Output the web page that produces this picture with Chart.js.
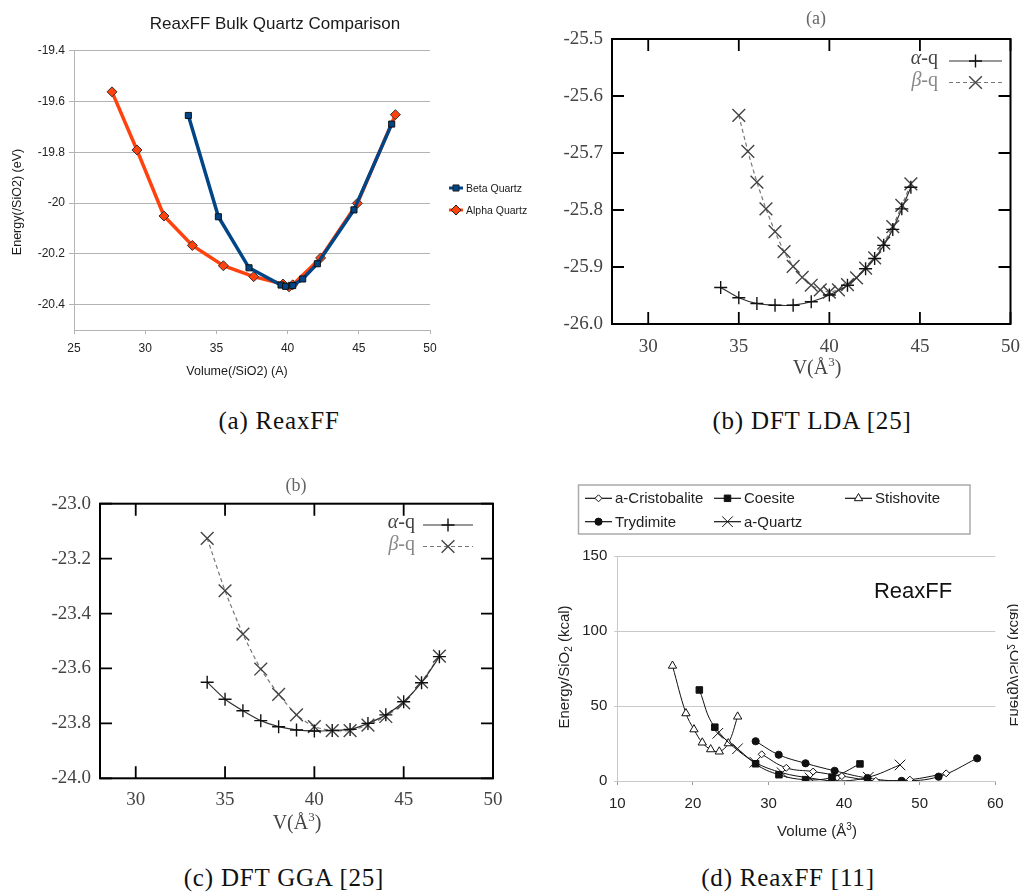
<!DOCTYPE html>
<html>
<head>
<meta charset="utf-8">
<script src="https://cdn.jsdelivr.net/npm/chart.js@4.4.0/dist/chart.umd.min.js"></script>
<style>
  body { margin: 0; background: #fff; width: 1032px; height: 892px; position: relative; overflow: hidden; }
  canvas { position: absolute; }
  .cap { position: absolute; font-family: "Liberation Serif", "Times New Roman", serif; font-size: 25px; color: #111;
         letter-spacing: 0.8px; transform: translate(-50%, -50%); white-space: nowrap; line-height: 1; }
</style>
</head>
<body>
<canvas id="ca" width="540" height="400" style="left:0;top:0"></canvas>
<canvas id="cb" width="492" height="400" style="left:540px;top:0"></canvas>
<canvas id="cc" width="540" height="392" style="left:0;top:460px"></canvas>
<canvas id="cd" width="492" height="380" style="left:540px;top:470px"></canvas>
<div class="cap" style="left:279px;top:420px">(a) ReaxFF</div>
<div class="cap" style="left:812px;top:420px">(b) DFT LDA [25]</div>
<div class="cap" style="left:284px;top:877px">(c) DFT GGA [25]</div>
<div class="cap" style="left:788px;top:877px">(d) ReaxFF [11]</div>
<script>
// (a) ReaxFF bulk quartz comparison, energy in eV per SiO2
const betaVol = [33.03, 35.14, 37.29, 39.54, 39.86, 40.36, 41.06, 42.09, 44.66, 47.31];
const betaE = [-19.655, -20.054, -20.255, -20.323, -20.328, -20.325, -20.299, -20.239, -20.027, -19.689];
const alphaVol = [27.67, 29.42, 31.32, 33.31, 35.49, 37.62, 39.68, 40.1, 40.36, 42.32, 44.9, 47.57];
const alphaE = [-19.562, -19.791, -20.051, -20.167, -20.247, -20.29, -20.319, -20.33, -20.322, -20.216, -20.001, -19.652];
const reaxXTicks = [25, 30, 35, 40, 45, 50];
const reaxYTicks = [-20.4, -20.2, -20, -19.8, -19.6, -19.4];

// (b) DFT LDA
const ldaAlphaVol = [34, 35, 36, 37, 38, 39, 40, 41, 42, 42.5, 43, 43.5, 44, 44.5];
const ldaAlphaE = [-25.936, -25.954, -25.964, -25.967, -25.967, -25.961, -25.949, -25.932, -25.903, -25.885, -25.862, -25.834, -25.798, -25.76];
const ldaBetaVol = [35, 35.5, 36, 36.5, 37, 37.5, 38, 38.5, 39, 39.5, 40, 40.5, 41, 41.5, 42, 42.5, 43, 43.5, 44, 44.5];
const ldaBetaE = [-25.634, -25.697, -25.751, -25.798, -25.838, -25.873, -25.899, -25.918, -25.932, -25.94, -25.944, -25.94, -25.931, -25.919, -25.902, -25.884, -25.858, -25.829, -25.792, -25.754];
const ldaYTicks = [-26.0, -25.9, -25.8, -25.7, -25.6, -25.5];

// (c) DFT GGA
const ggaVol = [34, 35, 36, 37, 38, 39, 40, 41, 42, 43, 44, 45, 46, 47];
const ggaAlphaE = [-23.65, -23.712, -23.754, -23.79, -23.812, -23.824, -23.828, -23.826, -23.822, -23.8, -23.769, -23.721, -23.652, -23.557];
const ggaBetaE = [-23.126, -23.317, -23.475, -23.602, -23.694, -23.769, -23.812, -23.826, -23.826, -23.806, -23.775, -23.725, -23.649, -23.555];
const ggaYTicks = [-24.0, -23.8, -23.6, -23.4, -23.2, -23.0];
const dftXTicks = [30, 35, 40, 45, 50];

// (d) ReaxFF polymorphs, energy in kcal per SiO2
const cristobaliteVol = [29.1, 32.35, 35.9, 39.7, 44.2, 48.7, 53.5];
const cristobaliteE = [17.8, 8.8, 6.3, 3.3, 0.1, 0.9, 5.1];
const coesiteVol = [20.85, 22.9, 28.3, 31.38, 34.9, 38.4, 42.1];
const coesiteE = [60.7, 35.9, 11.5, 4.2, 0.9, 2.5, 11.4];
const stishoviteVol = [17.3, 19.08, 20.14, 21.24, 22.35, 23.49, 24.68, 25.92];
const stishoviteE = [76.8, 45.1, 34.4, 25.6, 21.1, 19.6, 25.1, 42.9];
const trydimiteVol = [28.3, 31.35, 34.9, 38.75, 43.1, 47.6, 52.5, 57.6];
const trydimiteE = [26.5, 17.5, 11.8, 6.8, 2.0, 0.1, 2.9, 15.1];
const quartzVol = [23.3, 25.9, 28.2, 31.8, 35.5, 39.1, 43.2, 47.4];
const quartzE = [31.8, 21.5, 12.5, 5.5, 2.0, 0.0, 2.5, 10.7];
const polyXTicks = [10, 20, 30, 40, 50, 60];
const polyYTicks = [0, 50, 100, 150];

const SANS = '"Liberation Sans", Arial, sans-serif';
const SERIF = '"Liberation Serif", "Times New Roman", serif';

function pts(xs, ys) { return xs.map((x, i) => ({ x: x, y: ys[i] })); }
function useTicks(list) { return s => { s.ticks = list.map(v => ({ value: v })); }; }

function label(ctx, str, x, y, font, color, angle) {
  ctx.save();
  ctx.font = font;
  ctx.fillStyle = color;
  ctx.textAlign = 'center';
  if (angle) {
    ctx.translate(x, y);
    ctx.rotate(angle);
    ctx.textBaseline = 'middle';
    ctx.fillText(str, 0, 0);
  } else {
    ctx.textBaseline = 'alphabetic';
    ctx.fillText(str, x, y);
  }
  ctx.restore();
}

// text with a raised (or lowered) small part in the middle, centred on x
function scriptLabel(ctx, x, y, size, family, base, small, tail, color, shift) {
  ctx.save();
  ctx.fillStyle = color;
  ctx.textAlign = 'left';
  ctx.textBaseline = 'alphabetic';
  const big = size + 'px ' + family, sm = Math.round(size * 0.65) + 'px ' + family;
  ctx.font = big;
  const w1 = ctx.measureText(base).width, w3 = ctx.measureText(tail).width;
  ctx.font = sm;
  const w2 = ctx.measureText(small).width;
  const x0 = x - (w1 + w2 + w3) / 2;
  ctx.font = big; ctx.fillText(base, x0, y);
  ctx.font = sm; ctx.fillText(small, x0 + w1, y + shift * size);
  ctx.font = big; ctx.fillText(tail, x0 + w1 + w2, y);
  ctx.restore();
}

function marker(ctx, style, x, y, r, fill, stroke, lw) {
  ctx.beginPath();
  const d = r * Math.SQRT1_2;
  if (style === 'rect') ctx.rect(x - d, y - d, 2 * d, 2 * d);
  else if (style === 'rectRot') { ctx.moveTo(x - r, y); ctx.lineTo(x, y - r); ctx.lineTo(x + r, y); ctx.lineTo(x, y + r); ctx.closePath(); }
  else if (style === 'circle') ctx.arc(x, y, r, 0, Math.PI * 2);
  else if (style === 'triangle') { ctx.moveTo(x, y - r); ctx.lineTo(x + 0.866 * r, y + 0.5 * r); ctx.lineTo(x - 0.866 * r, y + 0.5 * r); ctx.closePath(); }
  else if (style === 'cross') { ctx.moveTo(x - r, y); ctx.lineTo(x + r, y); ctx.moveTo(x, y - r); ctx.lineTo(x, y + r); }
  else if (style === 'crossRot') { ctx.moveTo(x - d, y - d); ctx.lineTo(x + d, y + d); ctx.moveTo(x - d, y + d); ctx.lineTo(x + d, y - d); }
  if (fill && style !== 'cross' && style !== 'crossRot') { ctx.fillStyle = fill; ctx.fill(); }
  if (lw) { ctx.lineWidth = lw; ctx.strokeStyle = stroke; ctx.stroke(); }
}

const common = { responsive: false, animation: false, events: [] };
const noPlugins = { legend: { display: false }, tooltip: { enabled: false }, title: { display: false } };

// ---------- (a) ----------
const decorA = {
  id: 'decorA',
  afterDraw(chart) {
    const ctx = chart.ctx;
    label(ctx, 'ReaxFF Bulk Quartz Comparison', 275, 29, '17px ' + SANS, '#1a1a1a');
    label(ctx, 'Volume(/SiO2) (A)', 237, 375, '12.5px ' + SANS, '#1a1a1a');
    label(ctx, 'Energy(/SiO2) (eV)', 18, 202, '12.5px ' + SANS, '#1a1a1a', -Math.PI / 2);
    const rows = [
      { y: 188, text: 'Beta Quartz', color: '#004586', style: 'rect', r: 4.3 },
      { y: 210, text: 'Alpha Quartz', color: '#ff420e', style: 'rectRot', r: 5 }
    ];
    ctx.save();
    rows.forEach(it => {
      ctx.beginPath();
      ctx.moveTo(449, it.y); ctx.lineTo(463, it.y);
      ctx.strokeStyle = it.color; ctx.lineWidth = 3; ctx.stroke();
      marker(ctx, it.style, 456, it.y, it.r, it.color, '#222', 1);
      ctx.font = '10.5px ' + SANS; ctx.fillStyle = '#1a1a1a';
      ctx.textAlign = 'left'; ctx.textBaseline = 'alphabetic';
      ctx.fillText(it.text, 466, it.y + 3.5);
    });
    ctx.restore();
  }
};

new Chart(document.getElementById('ca'), {
  type: 'line',
  data: {
    datasets: [
      { label: 'Beta Quartz', data: pts(betaVol, betaE), borderColor: '#004586', borderWidth: 3.5, tension: 0,
        pointStyle: 'rect', pointRadius: 4.3, pointBackgroundColor: '#004586', pointBorderColor: '#111', pointBorderWidth: 1 },
      { label: 'Alpha Quartz', data: pts(alphaVol, alphaE), borderColor: '#ff420e', borderWidth: 3.5, tension: 0,
        pointStyle: 'rectRot', pointRadius: 5, pointBackgroundColor: '#ff420e', pointBorderColor: '#333', pointBorderWidth: 1 }
    ]
  },
  options: {
    ...common,
    layout: { padding: { left: 0, top: 50.7, right: 110, bottom: 0 } },
    plugins: noPlugins,
    scales: {
      x: { type: 'linear', min: 25, max: 50, afterBuildTicks: useTicks(reaxXTicks), afterFit: s => { s.height = 70; },
           grid: { drawOnChartArea: false, color: '#b3b3b3', tickLength: 4 }, border: { color: '#b3b3b3' },
           ticks: { font: { family: SANS, size: 12 }, color: '#222', padding: 7, maxRotation: 0 } },
      y: { min: -20.5, max: -19.4, afterBuildTicks: useTicks(reaxYTicks), afterFit: s => { s.width = 74; },
           grid: { color: '#b3b3b3', tickLength: 5 }, border: { color: '#b3b3b3' },
           ticks: { font: { family: SANS, size: 12 }, color: '#222', padding: 4, callback: v => String(+v.toFixed(1)) } }
    }
  },
  plugins: [decorA]
});

// ---------- gnuplot style panels (b) and (c) ----------
function gnuplotDecor(cfg) {
  return {
    id: 'gnu' + cfg.key,
    afterDatasetsDraw(chart) {
      const { ctx, chartArea: a, scales: { x, y } } = chart;
      ctx.save();
      ctx.strokeStyle = '#000';
      ctx.lineWidth = 2;
      ctx.strokeRect(a.left, a.top, a.right - a.left, a.bottom - a.top);
      ctx.lineWidth = 1.8;
      ctx.beginPath();
      x.ticks.forEach(t => {
        const px = x.getPixelForValue(t.value);
        ctx.moveTo(px, a.bottom); ctx.lineTo(px, a.bottom - 12);
        ctx.moveTo(px, a.top); ctx.lineTo(px, a.top + 12);
      });
      y.ticks.forEach(t => {
        const py = y.getPixelForValue(t.value);
        ctx.moveTo(a.left, py); ctx.lineTo(a.left + 12, py);
        ctx.moveTo(a.right, py); ctx.lineTo(a.right - 12, py);
      });
      ctx.stroke();
      ctx.restore();
    },
    afterDraw(chart) {
      const ctx = chart.ctx;
      label(ctx, cfg.title, cfg.titleX, cfg.titleY, '18px ' + SERIF, '#666');
      scriptLabel(ctx, cfg.xlabX, cfg.xlabY, 20, SERIF, 'V(Å', '3', ')', '#444', -0.4);
      const rows = [
        { greek: 'α', base: cfg.leg[0], y: cfg.leg[0] - 3, text: '#444', line: '#333', dash: [], style: 'cross', r: 6.5, mk: '#111' },
        { greek: 'β', base: cfg.leg[1], y: cfg.leg[1] - 3.5, text: '#888', line: '#777', dash: [4, 3], style: 'crossRot', r: 9, mk: '#444' }
      ];
      ctx.save();
      rows.forEach(r => {
        ctx.textAlign = 'left'; ctx.textBaseline = 'alphabetic';
        ctx.font = '20px ' + SERIF;
        const wq = ctx.measureText('-q').width;
        ctx.font = 'italic 20px ' + SERIF;
        const wg = ctx.measureText(r.greek).width;
        ctx.fillStyle = r.text;
        ctx.fillText(r.greek, cfg.legRight - wq - wg, r.base);
        ctx.font = '20px ' + SERIF;
        ctx.fillText('-q', cfg.legRight - wq, r.base);
        ctx.beginPath();
        ctx.setLineDash(r.dash);
        ctx.moveTo(cfg.legL, r.y); ctx.lineTo(cfg.legR, r.y);
        ctx.strokeStyle = r.line; ctx.lineWidth = 1.2; ctx.stroke();
        ctx.setLineDash([]);
        marker(ctx, r.style, (cfg.legL + cfg.legR) / 2, r.y, r.r, null, r.mk, 1.4);
      });
      ctx.restore();
    }
  };
}

function gnuplotChart(id, alphaData, betaData, yMin, yMax, yTicks, area, w, h, xPad, decor) {
  return new Chart(document.getElementById(id), {
    type: 'line',
    data: {
      datasets: [
        { label: 'alpha-q', data: alphaData, borderColor: '#333', borderWidth: 1.2, tension: 0.2,
          pointStyle: 'cross', pointRadius: 6.5, pointBorderColor: '#111', pointBorderWidth: 1.4 },
        { label: 'beta-q', data: betaData, borderColor: '#777', borderWidth: 1.2, borderDash: [4, 3], tension: 0.2,
          pointStyle: 'crossRot', pointRadius: 9, pointBorderColor: '#444', pointBorderWidth: 1.4 }
      ]
    },
    options: {
      ...common,
      layout: { padding: { left: 0, top: area.top, right: w - area.right, bottom: 0 } },
      plugins: noPlugins,
      scales: {
        x: { type: 'linear', min: 28, max: 50, afterBuildTicks: useTicks(dftXTicks), afterFit: s => { s.height = h - area.bottom; },
             grid: { display: false, drawTicks: false }, border: { display: false },
             ticks: { font: { family: SERIF, size: 19 }, color: '#444', padding: xPad, maxRotation: 0 } },
        y: { min: yMin, max: yMax, afterBuildTicks: useTicks(yTicks), afterFit: s => { s.width = area.left; },
             grid: { display: false, drawTicks: false }, border: { display: false },
             ticks: { font: { family: SERIF, size: 19 }, color: '#444', padding: 9, callback: v => v.toFixed(1) } }
      }
    },
    plugins: [decor]
  });
}

gnuplotChart('cb', pts(ldaAlphaVol, ldaAlphaE), pts(ldaBetaVol, ldaBetaE), -26.0, -25.5, ldaYTicks,
  { left: 72, right: 481, top: 39, bottom: 324 }, 492, 400, 12,
  gnuplotDecor({ key: 'B', title: '(a)', titleX: 276, titleY: 24, xlabX: 277, xlabY: 374,
                 leg: [64, 86], legRight: 398, legL: 409, legR: 462 }));

gnuplotChart('cc', pts(ggaVol, ggaAlphaE), pts(ggaVol, ggaBetaE), -24.0, -23.0, ggaYTicks,
  { left: 100, right: 493, top: 43.7, bottom: 318.3 }, 540, 392, 10,
  gnuplotDecor({ key: 'C', title: '(b)', titleX: 296, titleY: 31, xlabX: 297, xlabY: 369,
                 leg: [68, 90], legRight: 415, legL: 423, legR: 473 }));

// ---------- (d) ----------
const polyStyles = [
  { label: 'a-Cristobalite', style: 'rectRot', r: 3.5, fill: '#fff' },
  { label: 'Coesite', style: 'rect', r: 4.6, fill: '#111' },
  { label: 'Stishovite', style: 'triangle', r: 4.8, fill: '#fff' },
  { label: 'Trydimite', style: 'circle', r: 3.6, fill: '#111' },
  { label: 'a-Quartz', style: 'crossRot', r: 7.5, fill: null }
];
const polyData = [
  pts(cristobaliteVol, cristobaliteE),
  pts(coesiteVol, coesiteE),
  pts(stishoviteVol, stishoviteE),
  pts(trydimiteVol, trydimiteE),
  pts(quartzVol, quartzE)
];

const decorD = {
  id: 'decorD',
  afterDraw(chart) {
    const ctx = chart.ctx;
    label(ctx, 'ReaxFF', 373, 128, '22px ' + SANS, '#111');
    scriptLabel(ctx, 277, 366, 15, SANS, 'Volume (Å', '3', ')', '#222', -0.4);
    // left axis title
    ctx.save();
    ctx.translate(24, 197);
    ctx.rotate(-Math.PI / 2);
    scriptLabel(ctx, 0, 5, 15, SANS, 'Energy/SiO', '2', ' (kcal)', '#222', 0.2);
    ctx.restore();
    // mirrored copy cut by the right edge
    ctx.save();
    ctx.beginPath(); ctx.rect(0, 0, 478, 380); ctx.clip();
    ctx.translate(475, 195);
    ctx.scale(-1, 1);
    ctx.rotate(-Math.PI / 2);
    scriptLabel(ctx, 0, 5, 15, SANS, 'Energy/SiO', '2', ' (kcal)', '#222', 0.2);
    ctx.restore();
    // legend box
    ctx.save();
    ctx.strokeStyle = '#aaa'; ctx.lineWidth = 1.5;
    ctx.strokeRect(38.5, 15, 391.5, 49);
    const slots = [
      { x: 45, y: 28.3 }, { x: 174, y: 28.3 }, { x: 305, y: 28.3 },
      { x: 45, y: 51.7 }, { x: 174, y: 51.7 }
    ];
    polyStyles.forEach((st, i) => {
      const s = slots[i];
      ctx.beginPath(); ctx.moveTo(s.x, s.y); ctx.lineTo(s.x + 27, s.y);
      ctx.strokeStyle = '#111'; ctx.lineWidth = 1.2; ctx.stroke();
      marker(ctx, st.style, s.x + 13.5, s.y, st.r, st.fill, '#111', 1);
      ctx.font = '15px ' + SANS; ctx.fillStyle = '#222';
      ctx.textAlign = 'left'; ctx.textBaseline = 'alphabetic';
      ctx.fillText(st.label, s.x + 30, s.y + 5);
    });
    ctx.restore();
  }
};

new Chart(document.getElementById('cd'), {
  type: 'line',
  data: {
    datasets: polyStyles.map((st, i) => ({
      label: st.label, data: polyData[i], borderColor: '#111', borderWidth: 1, tension: 0.4,
      pointStyle: st.style, pointRadius: st.r, pointBackgroundColor: st.fill || '#111',
      pointBorderColor: '#111', pointBorderWidth: 1
    }))
  },
  options: {
    ...common,
    layout: { padding: { left: 0, top: 86, right: 492 - 455.3, bottom: 0 } },
    plugins: noPlugins,
    scales: {
      x: { type: 'linear', min: 10, max: 60, afterBuildTicks: useTicks(polyXTicks), afterFit: s => { s.height = 380 - 311; },
           grid: { drawOnChartArea: false, color: '#999', tickLength: 4 }, border: { color: '#c8c8c8' },
           ticks: { font: { family: SANS, size: 15 }, color: '#222', padding: 10, maxRotation: 0 } },
      y: { min: 0, max: 150, afterBuildTicks: useTicks(polyYTicks), afterFit: s => { s.width = 77.3; },
           grid: { color: '#c8c8c8', tickLength: 3 }, border: { color: '#c8c8c8' },
           ticks: { font: { family: SANS, size: 15 }, color: '#222', padding: 7 } }
    }
  },
  plugins: [decorD]
});
</script>
</body>
</html>
